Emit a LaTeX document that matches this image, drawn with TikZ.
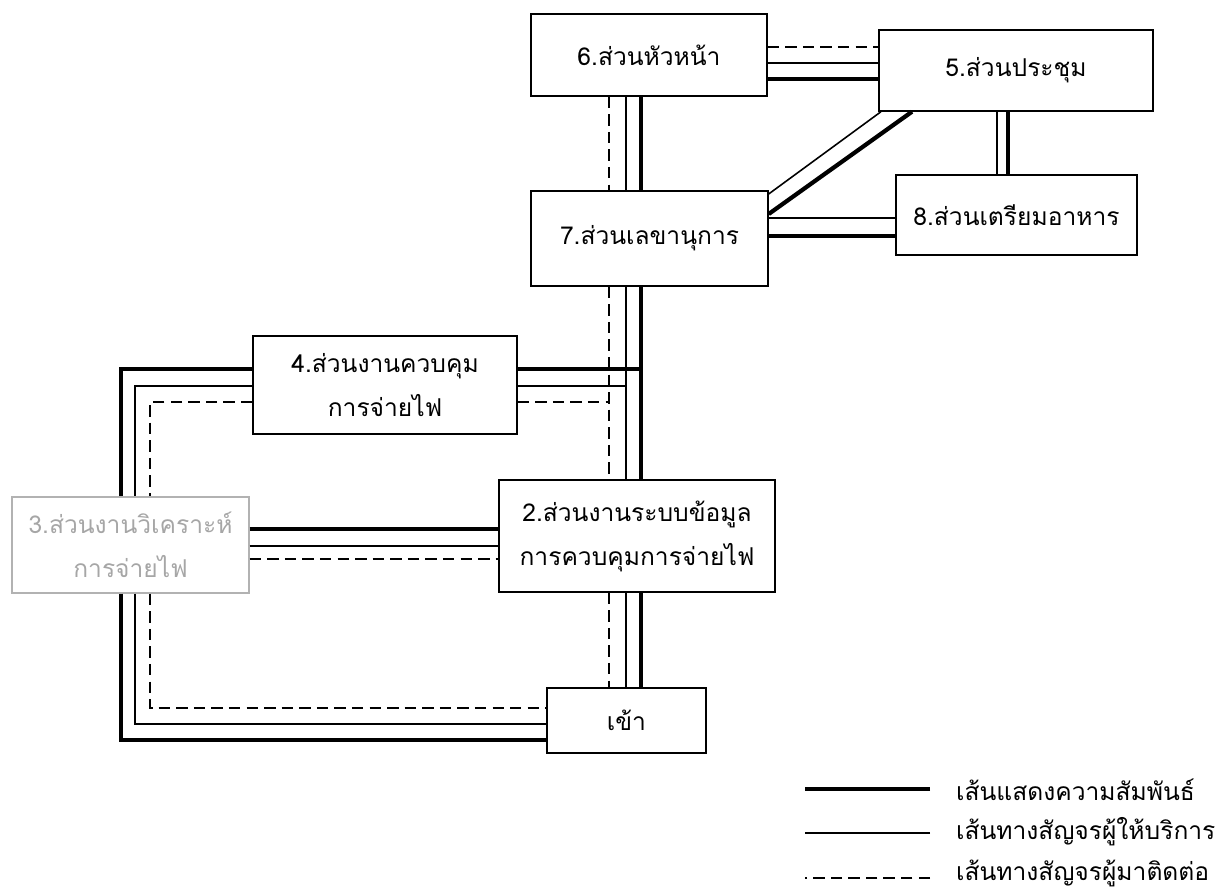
\documentclass[tikz,border=0pt]{standalone}
\usepackage{fontspec}
\newfontfamily\thaifont[Script=Thai]{Loma}
\begin{document}
\begin{tikzpicture}[x=0.02cm,y=-0.02cm,
  unit/.style={draw,line width=0.8pt,inner sep=0pt,align=center,
    font=\thaifont\fontsize{14}{25}\selectfont},
  relline/.style={line width=2.4pt},
  srvline/.style={line width=0.9pt},
  visline/.style={line width=0.9pt,dash pattern=on 6.5pt off 3.5pt}]
  \useasboundingbox (0,0) rectangle (1220,891);

  \node[unit,minimum width=4.72cm,minimum height=1.64cm] (P6) at (649,55) {6.ส่วนหัวหน้า};
  \node[unit,minimum width=5.48cm,minimum height=1.62cm] (P5) at (1016,70.5) {5.ส่วนประชุม};
  \node[unit,minimum width=4.82cm,minimum height=1.6cm] (P8) at (1016.5,215) {8.ส่วนเตรียมอาหาร};
  \node[unit,minimum width=4.74cm,minimum height=1.9cm] (P7) at (649.5,238.5) {7.ส่วนเลขานุการ};
  \node[unit,minimum width=5.28cm,minimum height=1.96cm] (P4) at (385,385) {4.ส่วนงานควบคุม\\การจ่ายไฟ};
  \node[unit,draw=gray!60,text=gray!70,minimum width=4.74cm,minimum height=1.92cm] (P3) at (130.5,545) {3.ส่วนงานวิเคราะห์\\การจ่ายไฟ};
  \node[unit,minimum width=5.52cm,minimum height=2.24cm] (P2) at (637,536) {2.ส่วนงานระบบข้อมูล\\การควบคุมการจ่ายไฟ};
  \node[unit,minimum width=3.18cm,minimum height=1.3cm] (Pin) at (626.5,720.5) {เข้า};

  % lanes of the main trunk
  \coordinate (vD) at (609,0);
  \coordinate (vS) at (626,0);
  \coordinate (vR) at (641,0);
  \draw[visline] (P6.south -| vD) -- (P7.north -| vD);
  \draw[srvline] (P6.south -| vS) -- (P7.north -| vS);
  \draw[relline] (P6.south -| vR) -- (P7.north -| vR);
  \draw[visline] (P7.south -| vD) -- (P2.north -| vD);
  \draw[srvline] (P7.south -| vS) -- (P2.north -| vS);
  \draw[relline] (P7.south -| vR) -- (P2.north -| vR);
  \draw[visline] (P2.south -| vD) -- (Pin.north -| vD);
  \draw[srvline] (P2.south -| vS) -- (Pin.north -| vS);
  \draw[relline] (P2.south -| vR) -- (Pin.north -| vR);

  % 4 to trunk and round the left side
  \coordinate (hR) at (0,369);
  \coordinate (hS) at (0,386);
  \coordinate (hD) at (0,402);
  \draw[relline] (P4.east |- hR) -- (vR |- hR);
  \draw[srvline] (P4.east |- hS) -- (vS |- hS);
  \draw[visline] (P4.east |- hD) -- (vD |- hD);
  \coordinate (lR) at (121,0);
  \coordinate (lS) at (135,0);
  \coordinate (lD) at (150,0);
  \draw[relline] (P4.west |- hR) -| (P3.north -| lR);
  \draw[srvline] (P4.west |- hS) -| (P3.north -| lS);
  \draw[visline] (P4.west |- hD) -| (P3.north -| lD);
  \coordinate (bR) at (0,740);
  \coordinate (bS) at (0,724);
  \coordinate (bD) at (0,708);
  \draw[relline] (P3.south -| lR) |- (Pin.west |- bR);
  \draw[srvline] (P3.south -| lS) |- (Pin.west |- bS);
  \draw[visline] (P3.south -| lD) |- (Pin.west |- bD);

  % 3 - 2
  \coordinate (mR) at (0,529);
  \coordinate (mS) at (0,546);
  \coordinate (mD) at (0,559);
  \draw[relline] (P3.east |- mR) -- (P2.west |- mR);
  \draw[srvline] (P3.east |- mS) -- (P2.west |- mS);
  \draw[visline] (P3.east |- mD) -- (P2.west |- mD);

  % 6 - 5
  \coordinate (tD) at (0,47);
  \coordinate (tS) at (0,63);
  \coordinate (tR) at (0,79);
  \draw[visline] (P6.east |- tD) -- (P5.west |- tD);
  \draw[srvline] (P6.east |- tS) -- (P5.west |- tS);
  \draw[relline] (P6.east |- tR) -- (P5.west |- tR);

  % 5 - 8
  \coordinate (kS) at (997,0);
  \coordinate (kR) at (1008,0);
  \draw[srvline] (P5.south -| kS) -- (P8.north -| kS);
  \draw[relline] (P5.south -| kR) -- (P8.north -| kR);

  % 7 - 8
  \coordinate (fS) at (0,218);
  \coordinate (fR) at (0,236);
  \draw[srvline] (P7.east |- fS) -- (P8.west |- fS);
  \draw[relline] (P7.east |- fR) -- (P8.west |- fR);

  % 7 - 5
  \coordinate (dS) at (0,194);
  \coordinate (dR) at (0,214);
  \coordinate (eS) at (881,0);
  \coordinate (eR) at (912,0);
  \draw[srvline] (P7.east |- dS) -- (P5.south -| eS);
  \draw[relline] (P7.east |- dR) -- (P5.south -| eR);

  % key
  \node[anchor=west,font=\thaifont\fontsize{14}{25}\selectfont] (L1) at (950,790) {เส้นแสดงความสัมพันธ์};
  \node[anchor=west,font=\thaifont\fontsize{14}{25}\selectfont] (L2) at (950,832) {เส้นทางสัญจรผู้ให้บริการ};
  \node[anchor=west,font=\thaifont\fontsize{14}{25}\selectfont] (L3) at (950,873) {เส้นทางสัญจรผู้มาติดต่อ};
  \draw[relline] (L1.west) ++(-20,-1) -- ++(-125,0);
  \draw[srvline] (L2.west) ++(-20,1) -- ++(-125,0);
  \draw[visline] (L3.west) ++(-20,5) -- ++(-125,0);
\end{tikzpicture}
\end{document}
